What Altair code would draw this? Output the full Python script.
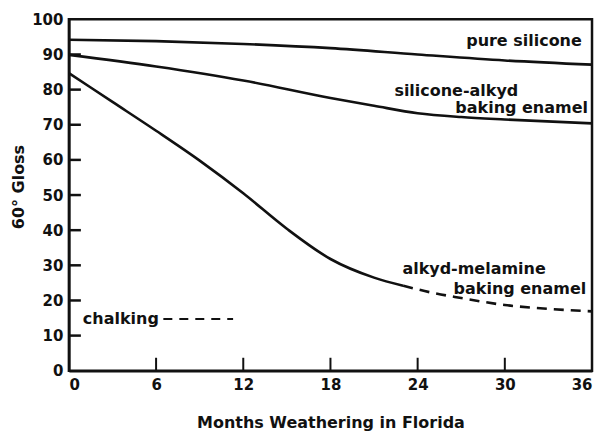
import altair as alt
import pandas as pd

# ---- data ----
months_pure = [0, 6, 12, 18, 24, 30, 36]
gloss_pure = [94.2, 93.8, 93.0, 91.8, 90.0, 88.3, 87.1]

months_sa = [0, 6, 12, 18, 21, 24, 27, 30, 36]
gloss_sa = [89.9, 86.6, 82.6, 77.6, 75.4, 73.3, 72.2, 71.5, 70.4]

months_am = [0, 3, 6, 9, 12, 15, 18, 21, 23]
gloss_am = [84.7, 76.5, 68.3, 59.8, 50.5, 40.4, 31.8, 26.5, 24.2]

months_am_dash = [23, 25, 27, 30, 33, 36]
gloss_am_dash = [24.2, 22.2, 20.7, 18.7, 17.6, 16.9]

months_chalk = [6.5, 11.3]
gloss_chalk = [14.7, 14.7]

x_ticks = [0, 6, 12, 18, 24, 30, 36]
y_ticks = [0, 10, 20, 30, 40, 50, 60, 70, 80, 90, 100]
x_inner_ticks = [6, 12, 18, 24, 30]
y_inner_ticks = [10, 20, 30, 40, 50, 60, 70, 80, 90]

label_text = ["pure silicone", "silicone-alkyd", "baking enamel",
              "alkyd-melamine", "baking enamel", "chalking"]
label_month = [35.3, 22.4, 35.72, 22.95, 35.6, 0.96]
label_gloss = [92.3, 78.1, 73.4, 27.5, 21.8, 13.3]
label_align = ["right", "left", "right", "left", "right", "left"]

FONT = "DejaVu Sans"
INK = "#111111"

solid_df = pd.DataFrame({
    "month": months_pure + months_sa + months_am,
    "gloss": gloss_pure + gloss_sa + gloss_am,
    "series": ["pure"] * len(months_pure) + ["sa"] * len(months_sa) + ["am"] * len(months_am),
})
dash_df = pd.DataFrame({"month": months_am_dash, "gloss": gloss_am_dash})
chalk_df = pd.DataFrame({"month": months_chalk, "gloss": gloss_chalk})
xt_df = pd.DataFrame({"month": x_inner_ticks})
yt_df = pd.DataFrame({"gloss": y_inner_ticks})
lab_df = pd.DataFrame({"month": label_month, "gloss": label_gloss,
                       "text": label_text, "align": label_align})

x_enc = alt.X("month:Q",
              scale=alt.Scale(domain=[0, 36], nice=False, zero=False),
              axis=alt.Axis(values=x_ticks, title="Months Weathering in Florida",
                            ticks=False, grid=False, labelPadding=7,
                            titleY=51.5, titleBaseline="middle", format="d"))
y_enc = alt.Y("gloss:Q",
              scale=alt.Scale(domain=[0, 100], nice=False),
              axis=alt.Axis(values=y_ticks, title="60° Gloss",
                            ticks=False, grid=False, labelPadding=6,
                            titleAngle=270, titleX=-50, titleY=167.5,
                            titleAlign="center", titleBaseline="middle",
                            format="d"))

solid = alt.Chart(solid_df).mark_line(
    interpolate="monotone", strokeWidth=2.6, color=INK
).encode(x=x_enc, y=y_enc, detail="series:N")

dashed = alt.Chart(dash_df).mark_line(
    interpolate="monotone", strokeWidth=2.6, color=INK, strokeDash=[10, 7]
).encode(x=x_enc, y=y_enc)

chalk = alt.Chart(chalk_df).mark_line(
    strokeWidth=2, color=INK, strokeDash=[9, 7]
).encode(x=x_enc, y=y_enc)

xticks = alt.Chart(xt_df).mark_rule(strokeWidth=2, color=INK).encode(
    x=x_enc, y=alt.value(352), y2=alt.value(339))
yticks = alt.Chart(yt_df).mark_rule(strokeWidth=2.5, color=INK).encode(
    y=y_enc, x=alt.value(0), x2=alt.value(12))

labels_left = alt.Chart(lab_df[lab_df["align"] == "left"]).mark_text(
    align="left", baseline="alphabetic", font=FONT, fontSize=16,
    fontWeight="bold", color=INK
).encode(x=x_enc, y=y_enc, text="text:N")
labels_right = alt.Chart(lab_df[lab_df["align"] == "right"]).mark_text(
    align="right", baseline="alphabetic", font=FONT, fontSize=16,
    fontWeight="bold", color=INK
).encode(x=x_enc, y=y_enc, text="text:N")

chart = alt.layer(
    solid, dashed, chalk, xticks, yticks, labels_left, labels_right
).properties(
    width=524, height=352,
    autosize=alt.AutoSizeParams(type="none"),
    padding={"left": 61, "top": 11, "right": 6, "bottom": 60},
    background="white",
).configure_view(
    stroke=INK, strokeWidth=2.5
).configure_axis(
    domainColor=INK, domainWidth=2.5,
    labelFont=FONT, labelFontSize=15, labelFontWeight="bold", labelColor=INK,
    titleFont=FONT, titleFontSize=16, titleFontWeight="bold", titleColor=INK,
)

chart.save("out.html", embed_options={"renderer": "svg", "actions": False})
